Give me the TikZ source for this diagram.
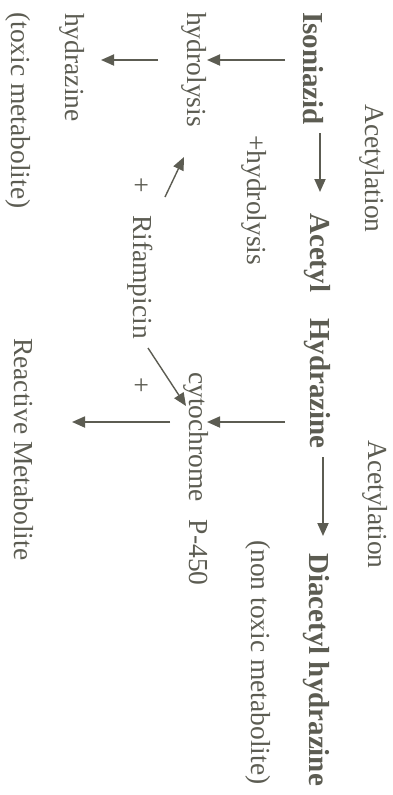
\documentclass[tikz,border=0pt]{standalone}
\usepackage{fontspec}
\setmainfont{Liberation Serif}
\usetikzlibrary{arrows.meta}
\definecolor{ink}{RGB}{92,92,82}
\begin{document}
\begin{tikzpicture}[x=1pt,y=-1pt,
  lbl/.style={rotate=-90, anchor=west, inner sep=0pt, text=ink, font=\fontsize{27.5}{30}\selectfont},
  blbl/.style={lbl, font=\fontsize{29}{31}\selectfont\bfseries},
  plus/.style={rotate=-90, anchor=center, inner sep=0pt, text=ink, font=\fontsize{27.5}{30}\selectfont},
  arr/.style={draw=ink, line width=1.8pt, -{Triangle[length=13pt,width=11pt]}}]
\useasboundingbox[fill=white] (0,0) rectangle (392,795);
% labels
\node[lbl]  (acet1) at (372,104) {Acetylation};
\node[blbl] (iso)   at (313,12)  {Isoniazid};
\node[blbl] (ah)    at (317,213) {Acetyl\hspace{0.9em}Hydrazine};
\node[lbl]  (acet2) at (375,440) {Acetylation};
\node[blbl] (dah)   at (316,553) {Diacetyl hydrazine};
\node[lbl]  (nontox) at (258,540) {(non toxic metabolite)};
\node[lbl]  (phyd)  at (254,135) {+hydrolysis};
\node[lbl]  (hyd)   at (194,12)  {hydrolysis};
\node[lbl]  (hz)    at (72,13)   {hydrazine};
\node[lbl]  (tox)   at (18,12)   {(toxic metabolite)};
\node[plus] (p1)    at (140,185) {+};
\node[lbl]  (rif)   at (140,215) {Rifampicin};
\node[plus] (p2)    at (140,385) {+};
\node[lbl]  (cyt)   at (196,372) {cytochrome\hspace{0.65em}P-450};
\node[lbl]  (rm)    at (24,338)  {Reactive Metabolite};
% arrow end points
\coordinate (a1s) at (320,133); \coordinate (a1e) at (320,192);
\coordinate (a2s) at (323,457); \coordinate (a2e) at (323,536);
\coordinate (h1s) at (285,60);  \coordinate (h1e) at (207,60);
\coordinate (h2s) at (158,60);  \coordinate (h2e) at (101,60);
\coordinate (h3s) at (285,422); \coordinate (h3e) at (207,422);
\coordinate (h4s) at (170,422); \coordinate (h4e) at (72,422);
\coordinate (d1s) at (165,197); \coordinate (d1e) at (184,157);
\coordinate (d2s) at (148,348); \coordinate (d2e) at (186,406);
% arrows
\draw[arr] (a1s) -- (a1e);
\draw[arr] (a2s) -- (a2e);
\draw[arr] (h1s) -- (h1e);
\draw[arr] (h2s) -- (h2e);
\draw[arr] (h3s) -- (h3e);
\draw[arr] (h4s) -- (h4e);
\draw[arr, line width=1.4pt] (d1s) -- (d1e);
\draw[arr, line width=1.4pt] (d2s) -- (d2e);
\end{tikzpicture}
\end{document}
